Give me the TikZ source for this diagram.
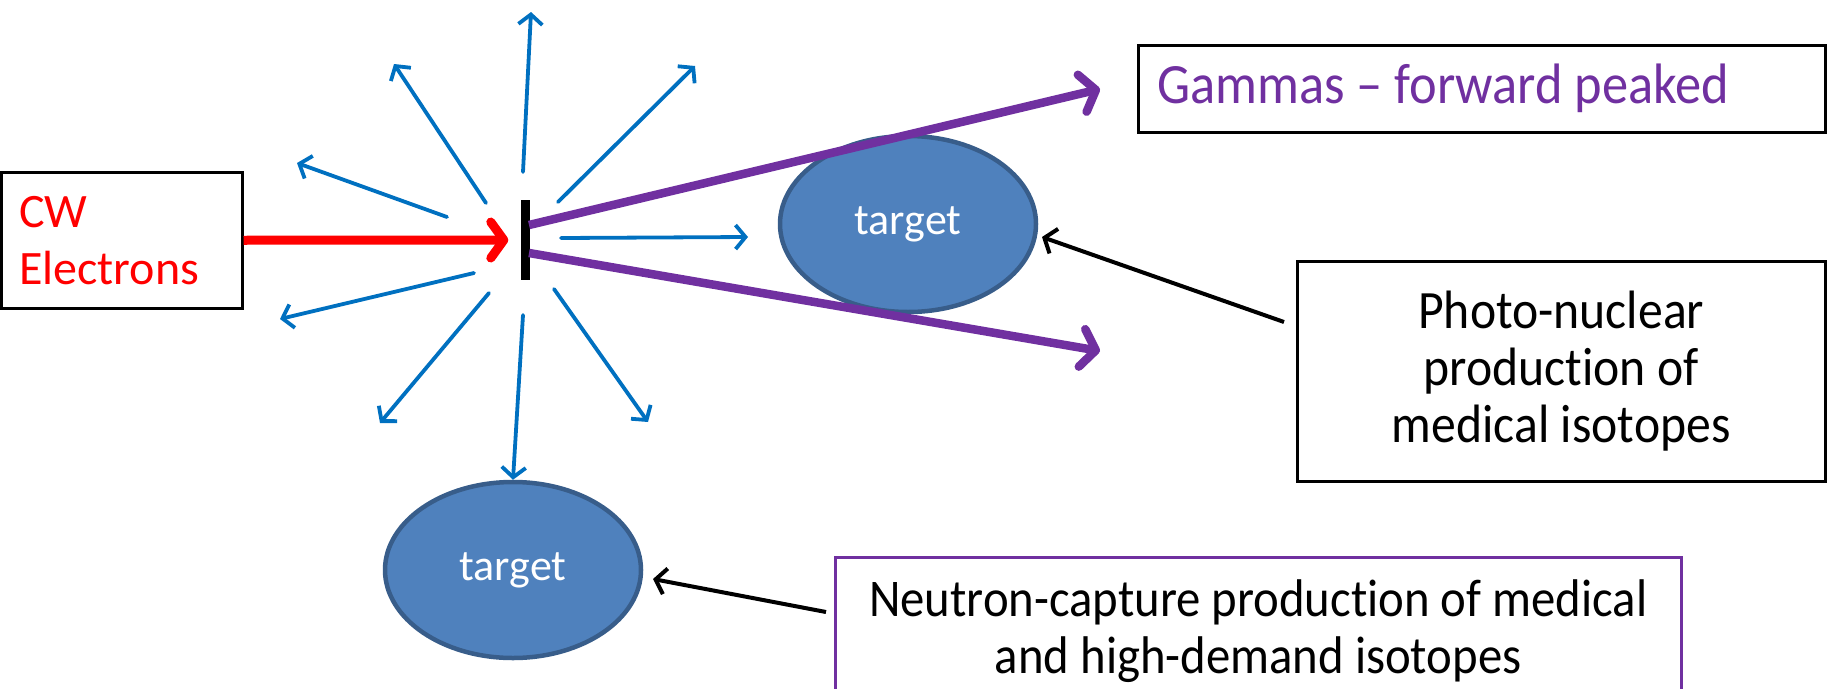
\documentclass[tikz,border=0pt]{standalone}
\usepackage{fontspec}
\setmainfont{Carlito}[Ligatures={TeX,NoCommon}]
\newfontfamily\condfont{Carlito}[Ligatures={TeX,NoCommon},FakeStretch=0.92]
\usetikzlibrary{arrows.meta,shapes.geometric,calc}
\definecolor{rayblue}{HTML}{0070C0}
\definecolor{gpurple}{HTML}{7030A0}
\definecolor{tfill}{HTML}{4F81BD}
\definecolor{tborder}{HTML}{385D8A}
\definecolor{ered}{HTML}{FF0000}
\begin{document}
\begin{tikzpicture}[x=1pt,y=-1pt,
  ray/.style={draw=rayblue, line width=3.8pt, line cap=round, -{Straight Barb[length=10pt,width=24pt]}},
  gammaline/.style={draw=gpurple, line width=8.5pt, -{Straight Barb[length=14pt,width=38pt,round]}},
  beam/.style={draw=ered, line width=9pt, -{Straight Barb[length=13pt,width=36pt,round]}},
  pointer/.style={draw=black, line width=4pt, -{Straight Barb[length=10pt,width=26pt]}},
  labelbox/.style={draw=black, line width=2.5pt, inner sep=0pt, anchor=north west},
  targetnode/.style={ellipse, fill=tfill, draw=tborder, line width=4.5pt, minimum width=256pt, minimum height=176pt, inner sep=0pt, text=white, font=\fontsize{44}{50}\selectfont}
]
\clip (0,0) rectangle (1828,688);
\useasboundingbox (0,0) rectangle (1828,688);

% boxes
\node[labelbox, text=ered, minimum width=241pt, minimum height=136pt, text width=205pt, align=flush left, font=\fontsize{48}{57}\selectfont] (cw) at (0,171) {CW\\Electrons};
\node[labelbox, text=gpurple, minimum width=687pt, minimum height=87pt, text width=649pt, align=flush left, font=\condfont\fontsize{57}{66}\selectfont] (gammas) at (1137,44) {Gammas – forward peaked};
\node[labelbox, minimum width=528pt, minimum height=220pt, text width=500pt, align=flush center, font=\condfont\fontsize{54}{57}\selectfont] (photo) at (1296,260) {Photo-nuclear\\production of\\medical isotopes};
\node[labelbox, draw=gpurple, minimum width=846pt, minimum height=148pt, text width=820pt, align=flush center, font=\condfont\fontsize{53}{57}\selectfont] (neutron) at (834,556) {Neutron-capture production of medical\\and high-demand isotopes};

% targets
\node[targetnode] (t1) at (908,224) {target};
\node[targetnode] (t2) at (513,570) {target};

% converter bar
\node[fill=black, minimum width=9pt, minimum height=80pt, inner sep=0pt] (bar) at (525,240) {};

% blue rays
\foreach \i/\a/\b/\c/\d in {1/523/172/531/12, 2/486/203/394/64, 3/558/202/695/66, 4/447/217/297/163, 5/561/238/748/237, 6/474/273/280/319, 7/489/293/380/423, 8/554/289/648/422}{
  \coordinate (r\i s) at (\a,\b);
  \coordinate (r\i e) at (\c,\d);
  \draw[ray] (r\i s) -- (r\i e);
}
\coordinate (r9s) at (523,315);
\draw[ray] (r9s) -- (t2.north);

% gammas
\coordinate (g1s) at (529,225);
\coordinate (g1e) at (1100,89);
\coordinate (g2s) at (529,253);
\coordinate (g2e) at (1100,351);
\draw[gammaline] (g1s) -- (g1e);
\draw[gammaline] (g2s) -- (g2e);

% electron beam
\draw[beam, shorten >=12pt] (cw.east) -- (bar.west);

% pointers
\coordinate (p1s) at (1284,322);
\coordinate (p1e) at (1042,237);
\draw[pointer] (p1s) -- (p1e);
\coordinate (p2s) at (826,612);
\coordinate (p2e) at (653,579);
\draw[pointer] (p2s) -- (p2e);
\end{tikzpicture}
\end{document}
